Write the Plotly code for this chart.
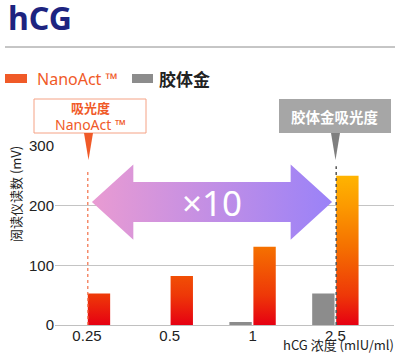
import plotly.graph_objects as go

# ---- data ----
categories = ["0.25", "0.5", "1", "2.5"]
nanoact = [53, 82, 131, 250]
colloidal_gold = [0, 0, 5, 53]
y_ticks = [0, 100, 200, 300]
series_names = ["NanoAct ™", "胶体金"]

# ---- layout geometry ----
W, H = 400, 355
L, R, T, B = 55, 6, 146, 30
pw = W - L - R
ph = H - T - B


def px(x):
    return (x - L) / pw


def py(y):
    return (H - B - y) / ph


bar_w = 0.27
off = 0.145
idx = list(range(len(categories)))


def bar_polys(vals, shift):
    xs, ys = [], []
    for i, v in zip(idx, vals):
        if v <= 0:
            continue
        x0, x1 = i + shift - bar_w / 2, i + shift + bar_w / 2
        xs += [x0, x1, x1, x0, x0, None]
        ys += [0, 0, v, v, 0, None]
    return xs, ys


fig = go.Figure()

gx, gy = bar_polys(colloidal_gold, -off)
fig.add_trace(go.Scatter(x=gx, y=gy, fill="toself", mode="lines",
                         line=dict(width=0, color="#8c8c8c"),
                         fillcolor="#8c8c8c", name=series_names[1],
                         hoverinfo="skip", showlegend=False))

nx, ny = bar_polys(nanoact, off)
fig.add_trace(go.Scatter(x=nx, y=ny, fill="toself", mode="lines",
                         line=dict(width=0, color="#e60012"),
                         fillgradient=dict(type="vertical",
                                           colorscale=[[0, "#e60012"], [0.2, "#ee3808"],
                                                       [0.52, "#f57000"], [0.8, "#fc9a00"],
                                                       [1, "#ffb400"]],
                                           start=0, stop=max(nanoact)),
                         name=series_names[0], hoverinfo="skip", showlegend=False))

# reference lines at the NanoAct and colloidal gold detection limits
line_a = idx[0] + off - bar_w / 2
line_b = idx[3] + off - bar_w / 2

# double arrow
ax0, ax1 = line_a + 0.05, line_b - 0.05
head = 0.5
yc, hh, sh = 206, 63, 33.5
arr_x = [ax0, ax0 + head, ax0 + head, ax1 - head, ax1 - head, ax1,
         ax1 - head, ax1 - head, ax0 + head, ax0 + head, ax0]
arr_y = [yc, yc + hh, yc + sh, yc + sh, yc + hh, yc,
         yc - hh, yc - sh, yc - sh, yc - hh, yc]
fig.add_trace(go.Scatter(x=arr_x, y=arr_y, fill="toself", mode="lines",
                         line=dict(width=0, color="#c090e0"),
                         fillgradient=dict(type="horizontal",
                                           colorscale=[[0, "#e99bd2"], [1, "#9a82f8"]],
                                           start=ax0, stop=ax1),
                         hoverinfo="skip", showlegend=False))

shapes = [
    dict(type="line", xref="x", yref="y", x0=line_a, x1=line_a, y0=0, y1=260,
         line=dict(color="#f37a55", width=1.3, dash="dot"), layer="above"),
    dict(type="line", xref="x", yref="y", x0=line_b, x1=line_b, y0=0, y1=266,
         line=dict(color="#555555", width=1.5, dash="dot"), layer="above"),
    # header rule
    dict(type="line", xref="paper", yref="paper", x0=px(5), x1=px(395), y0=py(47), y1=py(47),
         line=dict(color="#8c8c8c", width=1)),
    # legend swatches
    dict(type="rect", xref="paper", yref="paper", x0=px(5), x1=px(27), y0=py(83), y1=py(74),
         fillcolor="#f05a28", line=dict(width=0)),
    dict(type="rect", xref="paper", yref="paper", x0=px(132), x1=px(153), y0=py(83), y1=py(74),
         fillcolor="#8c8c8c", line=dict(width=0)),
    # callout boxes
    dict(type="rect", xref="paper", yref="paper", x0=px(34), x1=px(146), y0=py(133), y1=py(99),
         fillcolor="white", line=dict(color="#f5a285", width=1)),
    dict(type="rect", xref="paper", yref="paper", x0=px(279), x1=px(391), y0=py(133), y1=py(99),
         fillcolor="#a6a6a6", line=dict(width=0)),
    dict(type="path", xref="paper", yref="paper",
         path=f"M {px(84)},{py(133)} L {px(93)},{py(133)} L {px(88.5)},{py(160)} Z",
         fillcolor="#f05a28", line=dict(width=0)),
    dict(type="path", xref="paper", yref="paper",
         path=f"M {px(331)},{py(133)} L {px(340)},{py(133)} L {px(335.5)},{py(160)} Z",
         fillcolor="#7f7f7f", line=dict(width=0)),
]

CJK = "Noto Sans CJK SC"
LAT = "Liberation Sans, Noto Sans CJK SC"

annotations = [
    dict(text="<b>hCG</b>", x=px(6), y=py(0), xref="paper", yref="paper",
         xanchor="left", yanchor="top", showarrow=False, yshift=6,
         font=dict(family="Noto Sans", size=32, color="#1d2480")),
    dict(text=series_names[0], x=px(35), y=py(78.5), xref="paper", yref="paper",
         xanchor="left", yanchor="middle", showarrow=False,
         font=dict(family="Noto Sans, " + CJK, size=16, color="#f05a28")),
    dict(text="<b>" + series_names[1] + "</b>", x=px(157), y=py(78.5), xref="paper", yref="paper",
         xanchor="left", yanchor="middle", showarrow=False,
         font=dict(family=CJK, size=17, color="#222222")),
    dict(text="<b>吸光度</b><br><span style='font-size:14px'>NanoAct ™</span>",
         x=px(90), y=py(116), xref="paper", yref="paper",
         xanchor="center", yanchor="middle", showarrow=False,
         font=dict(family="Noto Sans, " + CJK, size=13, color="#f05a28")),
    dict(text="<b>胶体金吸光度</b>", x=px(335), y=py(116), xref="paper", yref="paper",
         xanchor="center", yanchor="middle", showarrow=False,
         font=dict(family=CJK, size=14.5, color="white")),
    dict(text="×10", x=(ax0 + ax1) / 2, y=yc, xref="x", yref="y",
         xanchor="center", yanchor="middle", showarrow=False,
         font=dict(family="Noto Sans", size=35, color="white")),
    dict(text="阅读仪读数 (mV)", x=px(15), y=py(194), xref="paper", yref="paper",
         xanchor="center", yanchor="middle", textangle=-90, showarrow=False,
         font=dict(family=CJK, size=13, color="#222222")),
    dict(text="hCG 浓度 (mIU/ml)", x=px(396), y=py(355), xref="paper", yref="paper",
         xanchor="right", yanchor="bottom", showarrow=False, yshift=-1,
         font=dict(family=CJK, size=13, color="#222222")),
]

fig.update_layout(
    width=W, height=H,
    margin=dict(l=L, r=R, t=T, b=B, pad=0),
    plot_bgcolor="white", paper_bgcolor="white",
    showlegend=False,
    shapes=shapes, annotations=annotations,
    xaxis=dict(range=[-0.386, 3.708], tickmode="array", tickvals=idx, ticktext=categories,
               showgrid=False, zeroline=False, showline=True, linecolor="#c0c0c0",
               ticks="", ticklabelstandoff=-3,
               tickfont=dict(family=LAT, size=15, color="#222222"), fixedrange=True),
    yaxis=dict(range=[0, 300], tickmode="array", tickvals=y_ticks,
               showgrid=True, gridcolor="#c4c4c4", gridwidth=1, zeroline=False,
               showline=False, ticks="", tickfont=dict(family=LAT, size=15, color="#222222"),
               fixedrange=True),
)

fig.write_html("out.html", config={"displayModeBar": False},
               post_script="document.body.style.margin='0';document.body.style.overflow='hidden';")
